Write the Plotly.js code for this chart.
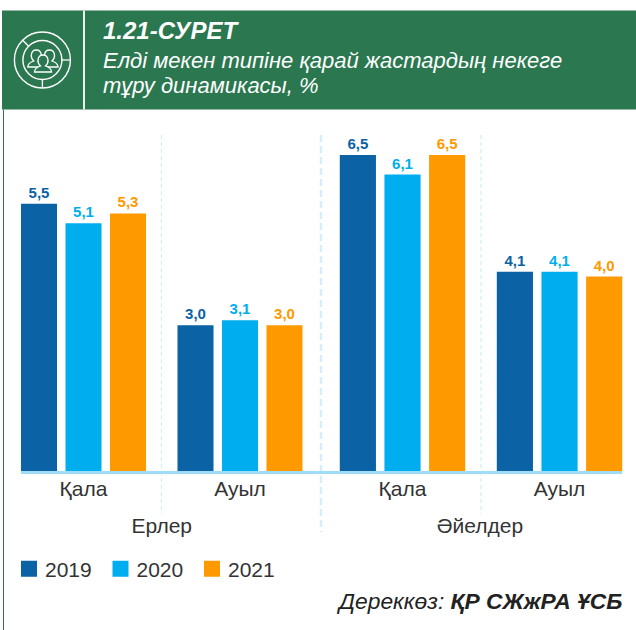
<!DOCTYPE html>
<html>
<head>
<meta charset="utf-8">
<script src="https://cdn.plot.ly/plotly-3.0.1.min.js"></script>
<style>html,body{margin:0;padding:0;background:#fff}#c{width:636px;height:630px}</style>
</head>
<body>
<div id="c"></div>
<script>
var places = ["Қала", "Ауыл"];
var groupNames = ["Ерлер", "Әйелдер"];
var years = ["2019", "2020", "2021"];
var men2019 = [5.5, 3.0];
var men2020 = [5.1, 3.1];
var men2021 = [5.3, 3.0];
var women2019 = [6.5, 4.1];
var women2020 = [6.1, 4.1];
var women2021 = [6.5, 4.0];
var colors = ["#0b62a4", "#00aeef", "#ff9900"];

var W = 636, H = 630;
function px(x){return x/W;}
function py(y){return 1-y/H;}
var green = "#2b7750";
var font = "Liberation Sans, Arial, sans-serif";

function barTrace(vals, i, xa){
  return {type:"bar", x:places, y:vals, xaxis:xa, yaxis:"y", name:years[i],
    legendgroup:years[i], showlegend:false,
    marker:{color:colors[i]},
    texttemplate:"%{y:.1f}", textposition:"outside", cliponaxis:false,
    textfont:{family:font,size:15,color:colors[i],weight:700}, hoverinfo:"name+y"};
}
function legendTrace(i){
  return {type:"scatter", mode:"markers", x:[null], y:[null], xaxis:"x", yaxis:"y",
    name:years[i], legendgroup:years[i], showlegend:true,
    marker:{symbol:"square", size:16, color:colors[i]}, hoverinfo:"skip"};
}
var traces = [
  barTrace(men2019,0,"x"), barTrace(men2020,1,"x"), barTrace(men2021,2,"x"),
  barTrace(women2019,0,"x2"), barTrace(women2020,1,"x2"), barTrace(women2021,2,"x2"),
  legendTrace(0), legendTrace(1), legendTrace(2)
];

function xAxis(a, b, title, range){
  return {domain:[px(a),px(b)], anchor:"y", type:"category", categoryorder:"array", categoryarray:places,
    range:range, showgrid:false, zeroline:false, showline:false, ticks:"", ticklen:0, ticklabelstandoff:3,
    tickfont:{family:font,size:21,color:"#333"}, fixedrange:true,
    title:{text:title, font:{family:font,size:21,color:"#333"}, standoff:19}, automargin:false};
}

function vdash(x, y0, y1, w, c, d){
  return {type:"line", xref:"paper", yref:"paper", x0:px(x), x1:px(x), y0:py(y0), y1:py(y1),
    line:{color:c, width:w, dash:d}, layer:"below"};
}
var shapes = [
  {type:"rect", xref:"paper", yref:"paper", x0:px(2), x1:1, y0:py(109.5), y1:py(10.6), fillcolor:green, line:{width:0}},
  {type:"line", xref:"paper", yref:"paper", x0:px(84), x1:px(84), y0:py(109.5), y1:py(10.6), line:{color:"#e8f1ec", width:2}},
  {type:"line", xref:"paper", yref:"paper", x0:px(3.5), x1:px(3.5), y0:py(109.5), y1:0, line:{color:green, width:1}},
  vdash(161.5,135,514,1.3,"#d5eef9","4px,3px"),
  vdash(321,135,532,2.5,"#d5eef9","7px,4px"),
  vdash(481,135,514,1.3,"#d5eef9","4px,3px"),
  {type:"line", xref:"paper", yref:"paper", x0:px(21), x1:px(622), y0:py(472.5), y1:py(472.5), line:{color:"#9fdcf5", width:3}, layer:"above"}
];
// icon
function circ(cx,cy,r,w){
  return {type:"circle", xref:"paper", yref:"paper", x0:px(cx-r), x1:px(cx+r), y0:py(cy+r), y1:py(cy-r),
    line:{color:"#fff",width:w}, fillcolor:"rgba(0,0,0,0)"};
}
function seg(x0,y0,x1,y1){
  return {type:"line", xref:"paper", yref:"paper", x0:px(x0), x1:px(x1), y0:py(y0), y1:py(y1), line:{color:"#fff",width:1.3}};
}
var icx = 42.4, icy = 60;
shapes.push(circ(icx,icy,28,1.4), circ(icx,icy,19.5,1.4));
shapes.push(seg(icx,icy+19.5,icx,icy+28), seg(icx+19.5,icy,icx+28,icy), seg(icx-14,icy-14,icx-20,icy-20));
function pathPx(s){
  return s.replace(/(-?[\d.]+),(-?[\d.]+)/g, function(m,a,b){ return px(+a)+","+py(+b); });
}
function person(cx,cy,k){
  function p(dx,dy){ return (cx+dx*k)+","+(cy+dy*k); }
  shapes.push({type:"path", xref:"paper", yref:"paper", fillcolor:green, line:{color:"#fff",width:1.3},
    path:pathPx("M"+p(-8.5,9)+" L"+p(8.5,9)+" Q"+p(8.5,5)+" "+p(2.5,3)+" Q"+p(5.5,0)+" "+p(5,-3)+" Q"+p(4.5,-8)+" "+p(0,-8)+
      " Q"+p(-4.5,-8)+" "+p(-5,-3)+" Q"+p(-5.5,0)+" "+p(-2.5,3)+" Q"+p(-8.5,5)+" "+p(-8.5,9)+" Z")});
}
person(36.3,58,1);
person(49.5,58,1);
person(43,63,1);

function ann(x, y, text, size, color, anchor){
  return {xref:"paper", yref:"paper", x:px(x), y:py(y), text:text, showarrow:false, xanchor:anchor, yanchor:"middle",
    align:"left", font:{family:font,size:size,color:color}};
}
var annotations = [
  ann(101,30,"<b><i>1.21-СУРЕТ</i></b>",24,"#fff","left"),
  ann(101,60,"<i>Елді мекен типіне қарай жастардың некеге</i>",22,"#fff","left"),
  ann(101,86,"<i>тұру динамикасы, %</i>",22,"#fff","left"),
  ann(624,601,"<i>Дереккөз: </i><b><i>ҚР СЖжРА ҰСБ</i></b>",22.8,"#222","right")
];

var layout = {
  width:W, height:H, margin:{l:0,r:0,t:0,b:0}, paper_bgcolor:"#fff", plot_bgcolor:"rgba(0,0,0,0)",
  separators:",.", barmode:"group", bargap:0.147, bargroupgap:0.19,
  xaxis:xAxis(5.25,318.25,groupNames[0],[-0.5,1.5]),
  xaxis2:xAxis(324,636,groupNames[1],[-0.5,1.487]),
  yaxis:{domain:[py(471),py(130.8)], range:[0,7], visible:false, fixedrange:true},
  legend:{orientation:"h", x:px(9), y:py(569), yanchor:"middle", xanchor:"left", entrywidth:46.5, entrywidthmode:"pixels",
    font:{family:font,size:21,color:"#333"}, bgcolor:"rgba(0,0,0,0)", itemclick:false, itemdoubleclick:false},
  shapes:shapes, annotations:annotations, showlegend:true
};
Plotly.newPlot("c", traces, layout, {displayModeBar:false, staticPlot:true}).then(function(){
  document.querySelectorAll(".legendtext").forEach(function(t){ t.setAttribute("x", 36); });
});
</script>
</body>
</html>
